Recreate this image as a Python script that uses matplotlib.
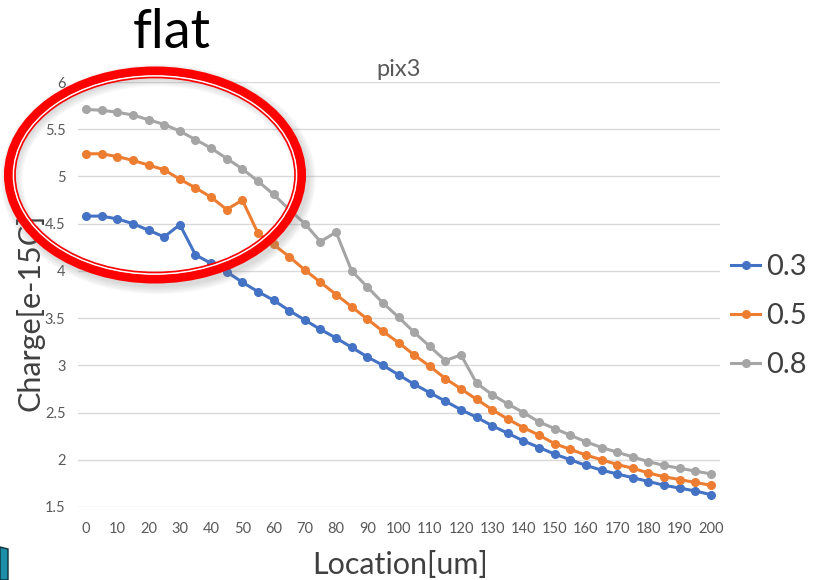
import numpy as np
import matplotlib.pyplot as plt
from matplotlib.patches import Ellipse, Polygon

plt.rcParams['font.family'] = ['Lato', 'DejaVu Sans']

location = np.arange(0, 205, 5)
xticks = np.arange(0, 201, 10)
yticks = [1.5, 2, 2.5, 3, 3.5, 4, 4.5, 5, 5.5, 6]

q03 = [4.58, 4.58, 4.55, 4.50, 4.43, 4.36, 4.49, 4.17, 4.08, 3.99, 3.88,
       3.78, 3.69, 3.58, 3.48, 3.38, 3.29, 3.19, 3.09, 3.00, 2.90, 2.80,
       2.71, 2.62, 2.53, 2.45, 2.36, 2.28, 2.20, 2.13, 2.06, 2.00, 1.94,
       1.89, 1.85, 1.81, 1.77, 1.73, 1.70, 1.67, 1.63]
q05 = [5.24, 5.24, 5.21, 5.17, 5.12, 5.07, 4.97, 4.88, 4.78, 4.65, 4.75,
       4.40, 4.28, 4.15, 4.01, 3.88, 3.75, 3.62, 3.49, 3.36, 3.24, 3.11,
       2.99, 2.86, 2.75, 2.64, 2.53, 2.43, 2.34, 2.26, 2.17, 2.11, 2.05,
       2.00, 1.95, 1.91, 1.86, 1.82, 1.79, 1.76, 1.73]
q08 = [5.71, 5.70, 5.68, 5.65, 5.60, 5.55, 5.48, 5.39, 5.30, 5.19, 5.08,
       4.95, 4.81, 4.65, 4.50, 4.31, 4.41, 4.00, 3.83, 3.66, 3.51, 3.35,
       3.20, 3.05, 3.11, 2.81, 2.69, 2.59, 2.50, 2.40, 2.33, 2.26, 2.19,
       2.13, 2.08, 2.03, 1.98, 1.94, 1.91, 1.88, 1.85]

series = [('0.3', q03, '#4472C4'), ('0.5', q05, '#ED7D31'), ('0.8', q08, '#A5A5A5')]

W, H = 815, 580
fig = plt.figure(figsize=(W / 100, H / 100), dpi=100)
ax = fig.add_axes([78 / W, 1 - 507 / H, 642 / W, 425 / H])

for name, vals, col in series:
    ax.plot(location, vals, '-o', color=col, lw=2.2, ms=5.5, label=name)

ax.set_xlim(-2.6, 202.9)
ax.set_ylim(1.5, 6)
ax.set_xticks(xticks)
ax.set_yticks(yticks)
ax.set_yticklabels(['1.5', '2', '2.5', '3', '3.5', '4', '4.5', '5', '5.5', '6'])
ax.grid(axis='y', color='#d9d9d9', lw=1)
ax.set_axisbelow(True)
for s in ax.spines.values():
    s.set_visible(False)
ax.tick_params(length=0, labelsize=10.5, labelcolor='#595959')
ax.tick_params(axis='x', pad=11)
ax.tick_params(axis='y', pad=9)

ax.set_title('pix3', fontsize=17, color='#595959', pad=4)
fig.text(400 / W, 1 - 565 / H, 'Location[um]', fontsize=22, color='#404040',
         ha='center', va='center')
fig.text(30 / W, 1 - 312 / H, 'Charge[e-15C]', fontsize=22, color='#404040',
         ha='center', va='center', rotation=90)
fig.text(172 / W, 1 - 32 / H, 'flat', fontsize=39, color='black',
         ha='center', va='center')

fig.legend(handles=ax.get_lines(), loc='center left',
           bbox_to_anchor=(731 / W, 1 - 316 / H), frameon=False,
           fontsize=21, handlelength=1.0, handletextpad=0.22, labelspacing=0.78,
           labelcolor='#404040', borderaxespad=0, borderpad=0)

# overlay in pixel coordinates for the annotation
ov = fig.add_axes([0, 0, 1, 1], zorder=10)
ov.set_xlim(0, W)
ov.set_ylim(H, 0)
ov.axis('off')
ov.patch.set_alpha(0)
for k in range(6):
    ov.add_patch(Ellipse((158, 179), 293, 208, fill=False, ec='gray',
                         lw=6 + 2 * k, alpha=0.05))
ov.add_patch(Ellipse((155, 175), 293, 208, fill=False, ec='#ff0000', lw=6.5))
ov.add_patch(Ellipse((155, 175), 283, 198, fill=False, ec='white', lw=1.2))
ov.add_patch(Ellipse((155, 175), 280, 195, fill=False, ec='#ff0000', lw=1.2))
ov.add_patch(Polygon([[0, 547], [8, 549], [8, 580], [0, 580]], closed=True,
                     fc='#1c8fa8', ec='#0b2f3a', lw=1))

fig.savefig('out.png', dpi=100)
